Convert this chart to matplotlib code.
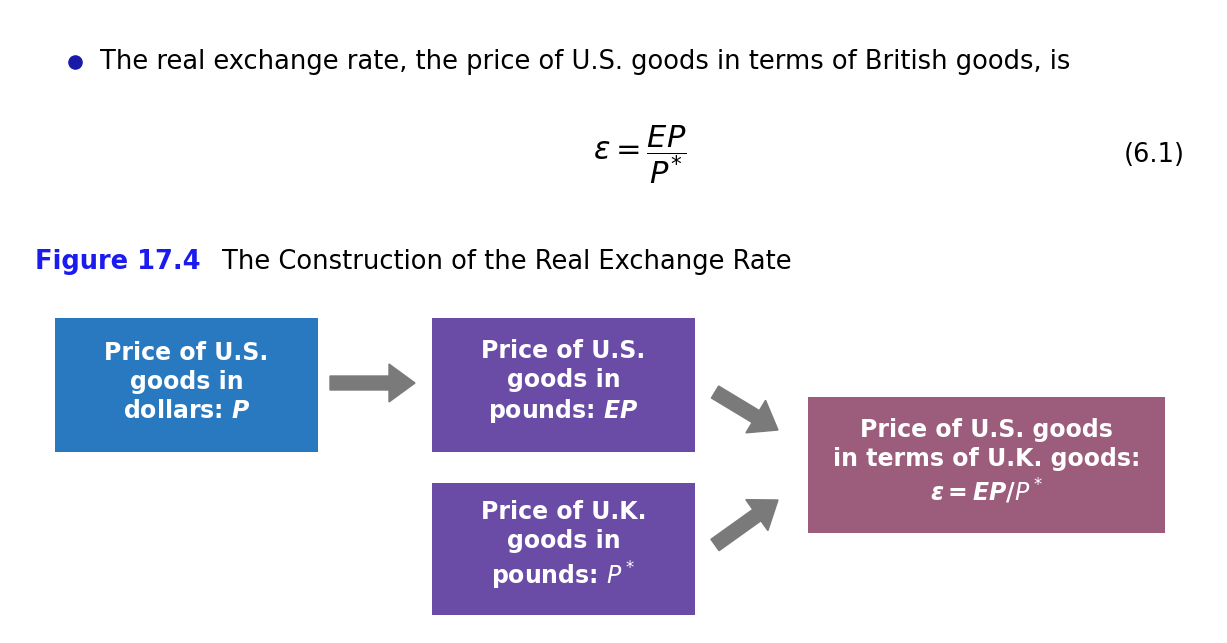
import matplotlib
matplotlib.use("Agg")
import matplotlib.pyplot as plt
from matplotlib.patches import Rectangle, FancyArrow

box_labels = ["Price of U.S.\ngoods in\ndollars: $\\boldsymbol{P}$",
              "Price of U.S.\ngoods in\npounds: $\\boldsymbol{EP}$",
              "Price of U.K.\ngoods in\npounds: $\\boldsymbol{P^*}$",
              "Price of U.S. goods\nin terms of U.K. goods:\n$\\boldsymbol{\\epsilon = EP/P^*}$"]
box_xywh = [(55, 318, 263, 134), (432, 318, 263, 134), (432, 483, 263, 132), (808, 397, 357, 136)]
box_colors = ["#2979c0", "#6a4ba6", "#6a4ba6", "#9c5c7b"]
arrows = [((330, 383), (415, 383)), ((715, 392), (778, 430)), ((715, 545), (778, 500))]

plt.rcParams['mathtext.fontset'] = 'dejavusans'
fig = plt.figure(figsize=(12.27, 6.43), dpi=100)
ax = fig.add_axes([0, 0, 1, 1])
ax.set_xlim(0, 1227); ax.set_ylim(643, 0); ax.axis('off')

ax.scatter([75], [62], s=90, color="#1a1aa8", zorder=3)
ax.text(100, 62, "The real exchange rate, the price of U.S. goods in terms of British goods, is",
        fontsize=18.5, va='center', ha='left')
ax.text(640, 155, r"$\varepsilon = \dfrac{EP}{P^{*}}$", fontsize=22, va='center', ha='center')
ax.text(1185, 155, "(6.1)", fontsize=18.5, va='center', ha='right')
ax.text(35, 262, "Figure 17.4", fontsize=18.5, va='center', ha='left', color="#1b1bf0", fontweight='bold')
ax.text(222, 262, "The Construction of the Real Exchange Rate", fontsize=18.5, va='center', ha='left')

for (x, y, w, h), c, lab in zip(box_xywh, box_colors, box_labels):
    ax.add_patch(Rectangle((x, y), w, h, facecolor=c, edgecolor='none'))
    ax.text(x + w / 2, y + h / 2 - 3, lab, color='white', fontsize=17, fontweight='bold',
            ha='center', va='center', linespacing=1.25)

for (x0, y0), (x1, y1) in arrows:
    ax.add_patch(FancyArrow(x0, y0, x1 - x0, y1 - y0, width=14, head_width=38, head_length=26,
                            length_includes_head=True, color="#7a7a7a", edgecolor='none'))

fig.savefig("out.png", dpi=100)
